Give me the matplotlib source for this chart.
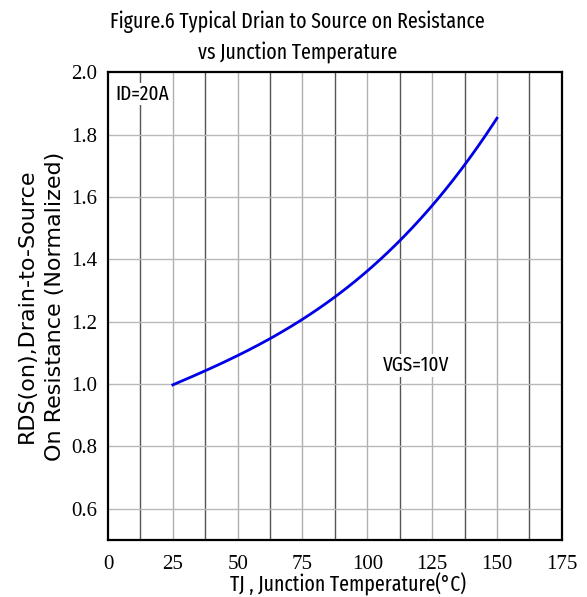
import numpy as np
import matplotlib.pyplot as plt

# values
temp_c = [25, 37.5, 50, 62.5, 75, 87.5, 100, 112.5, 125, 137.5, 150]
rds_norm = [1.000, 1.040, 1.088, 1.147, 1.210, 1.283, 1.363, 1.456, 1.567, 1.709, 1.851]

x_ticks = [0, 25, 50, 75, 100, 125, 150, 175]
y_ticks = [0.6, 0.8, 1.0, 1.2, 1.4, 1.6, 1.8, 2.0]

narrow = ['Fira Sans Extra Condensed', 'Roboto Condensed', 'DejaVu Sans']
serif = ['Liberation Serif', 'DejaVu Serif']

fig = plt.figure(figsize=(5.87, 5.97), dpi=100)
ax = fig.add_axes([0.184, 0.0955, 0.773, 0.7835])

# smooth the read points for drawing
xs = np.linspace(25, 150, 200)
coef = np.polyfit(temp_c, rds_norm, 3)
ax.plot(xs, np.polyval(coef, xs), color='#0000e6', lw=2.0, zorder=3)

ax.set_xlim(0, 175)
ax.set_ylim(0.5, 2.0)

# grid: every 12.5 C vertically, odd lines darker
for i, gx in enumerate(np.arange(12.5, 175, 12.5)):
    c = '#555555' if i % 2 == 0 else '#b0b0b0'
    ax.axvline(gx, color=c, lw=1.0, zorder=1)
for gy in y_ticks[:-1]:
    ax.axhline(gy, color='#b8b8b8', lw=1.0, zorder=1)

ax.set_xticks(x_ticks)
ax.set_yticks(y_ticks)
ax.set_xticklabels([str(t) for t in x_ticks], family=serif, fontsize=15)
ax.set_yticklabels([f'{t:.1f}' for t in y_ticks], family=serif, fontsize=15)
ax.tick_params(length=0, pad=8)
ax.tick_params(axis='x', pad=11)

for s in ax.spines.values():
    s.set_linewidth(1.6)

ax.text(2.7, 1.93, 'ID=20A', family=narrow, fontsize=15,
        va='center', ha='left',
        bbox=dict(facecolor='white', edgecolor='none', pad=1), zorder=4)
ax.text(119, 1.06, 'VGS=10V', family=narrow, fontsize=15,
        va='center', ha='center',
        bbox=dict(facecolor='white', edgecolor='none', pad=1), zorder=4)

fig.text(0.507, 0.963, 'Figure.6 Typical Drian to Source on Resistance',
         family=narrow, fontsize=15.5, ha='center', va='center')
fig.text(0.507, 0.913, 'vs Junction Temperature',
         family=narrow, fontsize=15.5, ha='center', va='center')

ax.set_xlabel('TJ , Junction Temperature(°C)', family=narrow, fontsize=15.5, labelpad=-1)
ax.xaxis.label.set_x(0.529)
ax.set_ylabel('RDS(on),Drain-to-Source\nOn Resistance (Normalized)',
              family=['DejaVu Sans'], fontsize=16, labelpad=4, linespacing=1.5)

fig.savefig('out.png', dpi=100)
